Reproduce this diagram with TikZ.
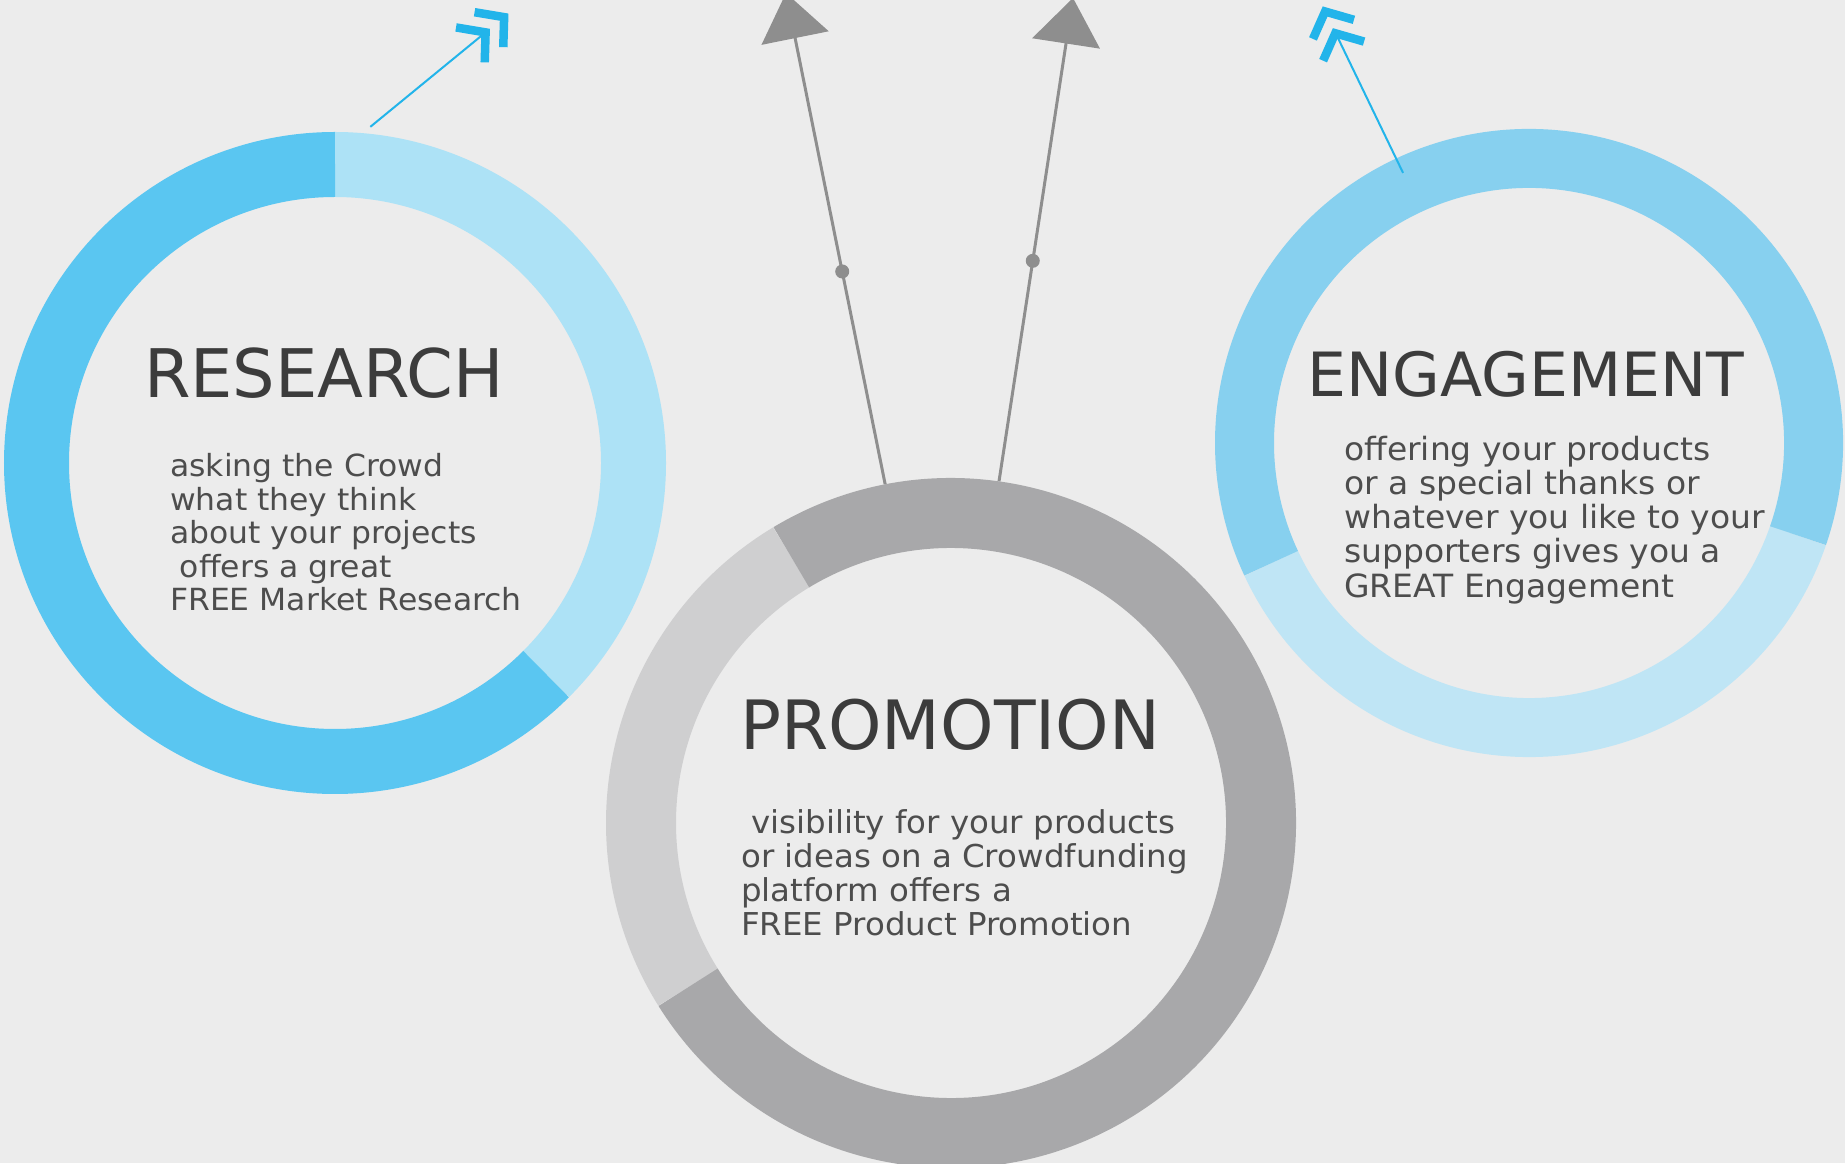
\documentclass[tikz,border=0pt]{standalone}
\usepackage{fontspec}
\setmainfont{DejaVu Sans}
\newfontfamily\bodyfnt[FakeStretch=1.03]{DejaVu Sans}
\newfontfamily\engfnt[FakeStretch=1.01]{DejaVu Sans}
\usetikzlibrary{arrows.meta,calc}
\definecolor{bg}{HTML}{ECECEC}
\definecolor{resDark}{HTML}{5AC6F1}
\definecolor{resLight}{HTML}{ADE2F6}
\definecolor{engDark}{HTML}{87D0EF}
\definecolor{engLight}{HTML}{BFE5F5}
\definecolor{proDark}{HTML}{A8A8AA}
\definecolor{proLight}{HTML}{CFCFD0}
\definecolor{blueArrow}{HTML}{22B4EA}
\definecolor{grayArrow}{HTML}{8E8E8E}
\definecolor{titleGray}{HTML}{3C3C3C}
\definecolor{bodyGray}{HTML}{4D4D4D}
\tikzset{
  ringnode/.style={circle, inner sep=0pt, draw=none},
  title/.style={inner sep=0pt, text=titleGray, anchor=base},
  bodytext/.style={inner sep=0pt, text=bodyGray, align=left, anchor=north west},
  bluearrow/.style={blueArrow, line width=2pt, shorten >=29pt},
  chevron/.style={blueArrow, line width=8.5pt, line join=miter},
  grayarrow/.style={grayArrow, line width=3pt, -{Triangle[width=68pt, length=46pt]}},
  dotnode/.style={circle, fill=grayArrow, inner sep=0pt, minimum size=14pt}
}
\begin{document}
\begin{tikzpicture}[x=1pt,y=1pt]
\useasboundingbox (0,0) rectangle (1845,1163);
\fill[bg] (0,0) rectangle (1845,1163);
\begin{scope}
\clip (0,0) rectangle (1845,1163);

% circle nodes
\node[ringnode, minimum size=662pt] (research) at (335,700) {};
\node[ringnode, minimum size=628pt] (engagement) at (1529,720) {};
\node[ringnode, minimum size=690pt] (promotion) at (951,340) {};

% research ring
\draw[line width=65pt, resLight] (research.center) ++(-45:298.5pt) arc[start angle=-45, end angle=90, radius=298.5pt];
\draw[line width=65pt, resDark] (research.center) ++(90:298.5pt) arc[start angle=90, end angle=315, radius=298.5pt];

% engagement ring
\draw[line width=59pt, engLight] (engagement.center) ++(205:284.5pt) arc[start angle=205, end angle=341, radius=284.5pt];
\draw[line width=59pt, engDark] (engagement.center) ++(-19:284.5pt) arc[start angle=-19, end angle=205, radius=284.5pt];

% promotion ring
\draw[line width=70pt, proLight] (promotion.center) ++(121:310pt) arc[start angle=121, end angle=212, radius=310pt];
\draw[line width=70pt, proDark] (promotion.center) ++(212:310pt) arc[start angle=212, end angle=481, radius=310pt];

% blue arrows
\coordinate (resStart) at ($(research.center)+(84:338pt)$);
\coordinate (resTip) at (508,1149);
\draw[bluearrow] (resStart) -- (resTip);
\begin{scope}[shift={(resTip)}, rotate=39.4]
  \draw[chevron] (-24.7,22.6) -- (-5,0) -- (-24.7,-22.6);
  \draw[chevron] (-48.7,22.6) -- (-29,0) -- (-48.7,-22.6);
\end{scope}
\coordinate (engStart) at ($(engagement.center)+(115:298pt)$);
\coordinate (engTip) at (1323,1156);
\draw[bluearrow] (engStart) -- (engTip);
\begin{scope}[shift={(engTip)}, rotate=115]
  \draw[chevron] (-24.7,22.6) -- (-5,0) -- (-24.7,-22.6);
  \draw[chevron] (-48.7,22.6) -- (-29,0) -- (-48.7,-22.6);
\end{scope}

% gray arrows
\coordinate (proTipL) at (786,1170);
\coordinate (proTipR) at (1073,1165);
\draw[grayarrow] (promotion.101) -- node[dotnode, pos=0.433] (dotL) {} (proTipL);
\draw[grayarrow] (promotion.82) -- node[dotnode, pos=0.456] (dotR) {} (proTipR);

% texts
\node[title, font=\fontsize{67}{74}\selectfont] (resTitle) at (324,765) {RESEARCH};
\node[bodytext, font=\bodyfnt\fontsize{30.5}{33.5}\selectfont] (resText) at (170,709.5)
  {asking the Crowd\\what they think\\about your projects\\\hspace*{0.32em}offers a great\\FREE Market Research};

\node[title, font=\engfnt\fontsize{61}{70}\selectfont] (engTitle) at (1526,766) {ENGAGEMENT};
\node[bodytext, font=\bodyfnt\fontsize{32}{34.2}\selectfont] (engText) at (1344,727.3)
  {offering your products\\or a special thanks or\\whatever you like to your\\supporters gives you a\\GREAT Engagement};

\node[title, font=\fontsize{68}{76}\selectfont] (proTitle) at (950,413) {PROMOTION};
\node[bodytext, font=\bodyfnt\fontsize{31.5}{34}\selectfont] (proText) at (741,354)
  {\hspace*{0.32em}visibility for your products\\or ideas on a Crowdfunding\\platform offers a\\FREE Product Promotion};
\end{scope}
\end{tikzpicture}
\end{document}
